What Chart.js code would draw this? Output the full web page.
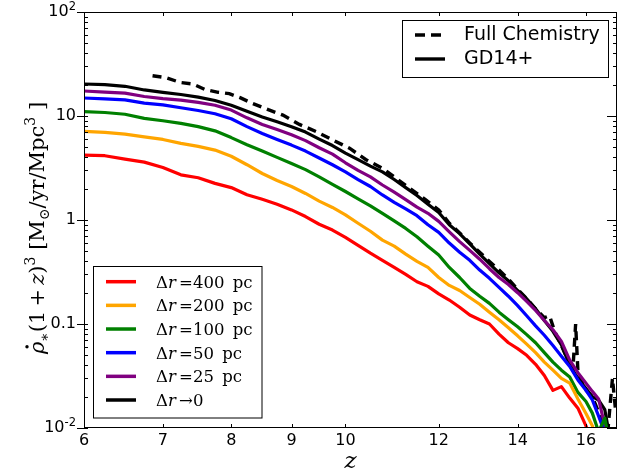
<!DOCTYPE html>
<html>
<head>
<meta charset="utf-8">
<script src="https://cdn.jsdelivr.net/npm/chart.js@4.4.0/dist/chart.umd.min.js"></script>
<style>
    html, body { margin: 0; padding: 0; background: #fff; }
    canvas { display: block; }
</style>
</head>
<body>
<canvas id="chart" width="618" height="476"></canvas>
<script>
(function (Chart) {
    "use strict";

    // redshift grid of the sub-grid runs
    var zGrid = [6.0, 6.25, 6.5, 6.75, 7.0, 7.25, 7.5, 7.75, 8.0, 8.25, 8.5, 8.75, 9.0, 9.25, 9.5, 9.75,
        10.0, 10.25, 10.5, 10.75, 11.0, 11.25, 11.5, 11.75, 12.0, 12.25, 12.5, 12.75, 13.0, 13.25, 13.5, 13.75,
        14.0, 14.25, 14.5, 14.75, 15.0, 15.25, 15.5, 15.75, 16.0, 16.2, 16.4, 16.6, 16.8];

    var rate400 = [4.2, 4.15, 3.85, 3.6, 3.2, 2.72, 2.55, 2.25, 2.05, 1.75, 1.58, 1.42, 1.25, 1.08, 0.91, 0.80,
        0.68, 0.57, 0.48, 0.41, 0.35, 0.30, 0.255, 0.23, 0.195, 0.17, 0.145, 0.122, 0.11, 0.10, 0.08, 0.066,
        0.058, 0.050, 0.041, 0.032, 0.023, 0.025, 0.0194, 0.0155, 0.0105, 0.007, 0.005, 0.004, 0.003];
    var rate200 = [7.1, 6.95, 6.7, 6.3, 5.95, 5.45, 5.1, 4.7, 4.1, 3.4, 2.8, 2.4, 2.1, 1.8, 1.52, 1.32,
        1.12, 0.93, 0.78, 0.64, 0.56, 0.47, 0.40, 0.35, 0.28, 0.235, 0.21, 0.18, 0.155, 0.13, 0.11, 0.092,
        0.077, 0.064, 0.053, 0.043, 0.036, 0.030, 0.027, 0.019, 0.0138, 0.0105, 0.007, 0.005, 0.004];
    var rate100 = [11.0, 10.8, 10.4, 9.5, 9.0, 8.5, 7.9, 7.2, 6.2, 5.3, 4.6, 4.0, 3.5, 3.05, 2.6, 2.2,
        1.88, 1.6, 1.37, 1.16, 0.98, 0.83, 0.69, 0.56, 0.46, 0.35, 0.28, 0.22, 0.185, 0.158, 0.13, 0.11,
        0.094, 0.079, 0.066, 0.053, 0.043, 0.036, 0.031, 0.022, 0.018, 0.0139, 0.0092, 0.0124, 0.006];
    var rate50 = [14.9, 14.6, 14.3, 13.3, 12.8, 12.0, 11.3, 10.5, 9.4, 7.9, 6.8, 5.95, 5.25, 4.6, 3.95, 3.4,
        2.9, 2.45, 2.1, 1.74, 1.48, 1.28, 1.10, 0.90, 0.76, 0.60, 0.49, 0.41, 0.33, 0.275, 0.225, 0.185,
        0.15, 0.12, 0.096, 0.078, 0.062, 0.049, 0.039, 0.029, 0.023, 0.0186, 0.013, 0.009, 0.005];
    var rate25 = [17.4, 17.0, 16.6, 15.4, 14.7, 14.2, 13.5, 12.7, 11.4, 9.6, 8.3, 7.4, 6.6, 5.8, 4.95, 4.3,
        3.55, 3.0, 2.6, 2.17, 1.85, 1.57, 1.33, 1.16, 0.97, 0.77, 0.62, 0.51, 0.42, 0.34, 0.28, 0.24,
        0.20, 0.165, 0.135, 0.108, 0.088, 0.068, 0.045, 0.034, 0.027, 0.0225, 0.019, 0.0105, 0.006];
    var rate0 = [20.3, 20.0, 19.3, 17.8, 16.9, 16.1, 15.2, 14.1, 12.7, 11.1, 9.8, 8.8, 7.9, 7.0, 6.0, 5.2,
        4.4, 3.8, 3.3, 2.9, 2.45, 2.05, 1.72, 1.42, 1.18, 0.90, 0.74, 0.59, 0.47, 0.38, 0.31, 0.26,
        0.21, 0.175, 0.14, 0.108, 0.085, 0.063, 0.040, 0.030, 0.024, 0.020, 0.0185, 0.015, 0.007];

    // full chemistry run, own sampling
    var fullZ = [6.86, 7.05, 7.24, 7.42, 7.6, 7.8, 7.97, 8.14, 8.34, 8.6, 8.85, 9.14, 9.44, 9.75, 10.08,
        10.41, 10.75, 11.04, 11.35, 11.7, 12.0, 12.25, 12.5, 12.75, 13.0, 13.25, 13.5, 13.75, 14.0, 14.25,
        14.5, 14.75, 14.9, 15.05, 15.25, 15.45, 15.6, 15.68, 15.75, 15.95, 16.2, 16.45, 16.6, 16.7, 16.85, 16.95];
    var fullRate = [24.4, 23.3, 21.0, 20.3, 18.0, 16.9, 16.4, 15.0, 13.2, 11.5, 10.2, 8.3, 7.1, 5.9, 4.9,
        3.8, 3.14, 2.52, 2.0, 1.56, 1.25, 0.93, 0.75, 0.6, 0.49, 0.40, 0.33, 0.27, 0.215, 0.175,
        0.14, 0.115, 0.12, 0.085, 0.062, 0.045, 0.038, 0.10, 0.035, 0.024, 0.02, 0.013, 0.01, 0.0095, 0.03, 0.015];

    var seriesRates = [rate400, rate200, rate100, rate50, rate25, rate0];
    var seriesColors = ["#ff0000", "#ffa500", "#008000", "#0000ff", "#800080", "#000000"];
    var seriesTails = ["=400\u2002pc", "=200\u2002pc", "=100\u2002pc", "=50\u2002pc", "=25\u2002pc", "\u21920"];

    var xTicks = [6, 7, 8, 9, 10, 12, 14, 16];
    var yTicks = [0.01, 0.1, 1, 10, 100];
    var yTickLabels = ["10^-2", "0.1", "1", "10", "10^2"];

    var SERIF = "'DejaVu Serif', serif";
    var SANS = "'DejaVu Sans', sans-serif";

    function toPoints (xs, ys) {
        return xs.map(function (x, i) { return { x: x, y: ys[i] }; });
    }

    var datasets = seriesRates.map(function (rates, i) {
        return {
            label: "\u0394r" + seriesTails[i],
            data: toPoints(zGrid, rates),
            borderColor: seriesColors[i],
            borderWidth: 3.2,
            borderJoinStyle: "round",
            pointRadius: 0,
            tension: 0,
            fill: false,
            clip: 0
        };
    });
    datasets.push({
        label: "Full Chemistry",
        data: toPoints(fullZ, fullRate),
        borderColor: "#000000",
        borderWidth: 3.4,
        borderDash: [9, 6],
        pointRadius: 0,
        tension: 0,
        fill: false,
        clip: 0
    });

    function drawRich (ctx, parts, x, baseY) {
        parts.forEach(function (p) {
            ctx.font = p.font;
            p.w = ctx.measureText(p.text).width;
            p.x = x;
            ctx.fillText(p.text, x, baseY + (p.dy || 0));
            x += p.w;
        });
        return x;
    }

    function richWidth (ctx, parts) {
        var w = 0;
        parts.forEach(function (p) { ctx.font = p.font; w += ctx.measureText(p.text).width; });
        return w;
    }

    var framePlugin = {
        id: "frame",
        afterDraw: function (chart) {
            var ctx = chart.ctx,
                area = chart.chartArea,
                xs = chart.scales.x,
                ys = chart.scales.y;

            ctx.save();
            ctx.strokeStyle = "#000";
            ctx.lineWidth = 1;
            ctx.strokeRect(area.left + 0.5, area.top + 0.5, area.right - area.left - 1, area.bottom - area.top - 1);

            ctx.beginPath();
            // y ticks, major and minor, both sides
            yTicks.forEach(function (v, k) {
                var py = Math.round(ys.getPixelForValue(v)) + 0.5;
                ctx.moveTo(area.left - 7, py); ctx.lineTo(area.left + 4, py);
                ctx.moveTo(area.right - 10, py); ctx.lineTo(area.right, py);
                if (k === yTicks.length - 1) return;
                for (var m = 2; m < 10; m++) {
                    var my = Math.round(ys.getPixelForValue(v * m)) + 0.5;
                    ctx.moveTo(area.left, my); ctx.lineTo(area.left + 4, my);
                    ctx.moveTo(area.right - 4, my); ctx.lineTo(area.right, my);
                }
            });
            // x ticks, bottom and top
            xTicks.forEach(function (v) {
                var px = Math.round(xs.getPixelForValue(v)) + 0.5;
                ctx.moveTo(px, area.bottom); ctx.lineTo(px, area.bottom - 4);
                ctx.moveTo(px, area.top); ctx.lineTo(px, area.top + 4);
            });
            ctx.stroke();

            ctx.fillStyle = "#000";

            // y tick labels with raised exponents
            ctx.textBaseline = "middle";
            ctx.textAlign = "left";
            yTicks.forEach(function (v, k) {
                var py = ys.getPixelForValue(v),
                    bits = yTickLabels[k].split("^"),
                    right = 76, expW = 0;
                if (bits[1]) {
                    ctx.font = "11.5px " + SANS;
                    expW = ctx.measureText(bits[1]).width;
                    ctx.fillText(bits[1], right - expW, py - 4.5);
                }
                ctx.font = "16px " + SANS;
                ctx.fillText(bits[0], right - expW - ctx.measureText(bits[0]).width, py);
            });

            // x axis title
            ctx.textBaseline = "alphabetic";
            ctx.font = "italic 23px " + SERIF;
            ctx.textAlign = "center";
            ctx.fillText("z", (area.left + area.right) / 2, 468);

            // y axis title
            ctx.textAlign = "left";
            var big = "21px " + SERIF, small = "14px " + SERIF;
            var parts = [
                { text: "\u03c1", font: "italic " + big },
                { text: "\u2217", font: small, dy: 5 },
                { text: "(1\u2009+\u2009", font: big },
                { text: "z", font: "italic " + big },
                { text: ")", font: big },
                { text: "3", font: small, dy: -9 },
                { text: " [M", font: big },
                { text: "\u2299", font: small, dy: 5 },
                { text: "/yr/Mpc", font: big },
                { text: "3", font: small, dy: -9 },
                { text: " ]", font: big }
            ];
            ctx.save();
            ctx.translate(44, 228);
            ctx.rotate(-Math.PI / 2);
            drawRich(ctx, parts, -richWidth(ctx, parts) / 2, 0);
            ctx.beginPath();
            ctx.arc(parts[0].x + parts[0].w * 0.6, -17, 1.7, 0, Math.PI * 2);
            ctx.fill();
            ctx.restore();

            // upper right legend
            ctx.fillStyle = "#fff";
            ctx.fillRect(402.5, 20.5, 206, 57);
            ctx.strokeStyle = "#000";
            ctx.lineWidth = 1;
            ctx.strokeRect(402.5, 20.5, 206, 57);
            ctx.lineWidth = 3.4;
            ctx.setLineDash([10, 6]);
            ctx.beginPath(); ctx.moveTo(415, 35); ctx.lineTo(445, 35); ctx.stroke();
            ctx.setLineDash([]);
            ctx.beginPath(); ctx.moveTo(415, 59); ctx.lineTo(445, 59); ctx.stroke();
            ctx.fillStyle = "#000";
            ctx.font = "19px " + SANS;
            ctx.textBaseline = "middle";
            ctx.fillText("Full Chemistry", 464, 35);
            ctx.fillText("GD14+", 464, 59);

            // lower left legend
            ctx.fillStyle = "#fff";
            ctx.fillRect(93.5, 266.5, 168.5, 151.5);
            ctx.lineWidth = 1;
            ctx.strokeRect(93.5, 266.5, 168.5, 151.5);
            ctx.textBaseline = "alphabetic";
            seriesColors.forEach(function (color, i) {
                var ry = 281.7 + i * 23.66;
                ctx.strokeStyle = color;
                ctx.lineWidth = 3.5;
                ctx.beginPath(); ctx.moveTo(106, ry); ctx.lineTo(136, ry); ctx.stroke();
                ctx.fillStyle = "#000";
                drawRich(ctx, [
                    { text: "\u0394", font: "16.5px " + SERIF },
                    { text: "r\u2009", font: "italic 16.5px " + SERIF },
                    { text: seriesTails[i], font: "16.5px " + SERIF }
                ], 156, ry + 6);
            });

            ctx.restore();
        }
    };

    new Chart(document.getElementById("chart"), {
        type: "line",
        data: { datasets: datasets },
        options: {
            responsive: false,
            animation: false,
            layout: { padding: { top: 12, right: 1, left: 0, bottom: 0 } },
            plugins: { legend: { display: false }, tooltip: { enabled: false } },
            scales: {
                x: {
                    type: "logarithmic",
                    min: 6,
                    max: 17,
                    afterBuildTicks: function (scale) {
                        scale.ticks = xTicks.map(function (v) { return { value: v }; });
                    },
                    afterFit: function (scale) { scale.height = 48; },
                    grid: { display: false, drawTicks: false },
                    border: { display: false },
                    ticks: {
                        autoSkip: false,
                        maxRotation: 0,
                        padding: 3,
                        color: "#000",
                        font: { family: "DejaVu Sans", size: 16 },
                        callback: function (value) { return String(value); }
                    }
                },
                y: {
                    type: "logarithmic",
                    min: 0.01,
                    max: 100,
                    afterBuildTicks: function (scale) {
                        scale.ticks = yTicks.map(function (v) { return { value: v }; });
                    },
                    afterFit: function (scale) { scale.width = 84; },
                    grid: { display: false, drawTicks: false },
                    border: { display: false },
                    ticks: { display: false }
                }
            }
        },
        plugins: [framePlugin]
    });
})(Chart);
</script>
</body>
</html>
